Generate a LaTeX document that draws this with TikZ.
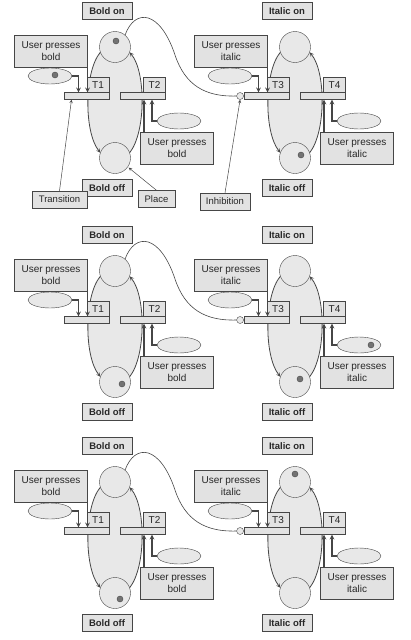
\documentclass[tikz,border=0pt]{standalone}
\usepackage{fontspec}
\setmainfont{Liberation Sans}
\usepackage{tikz}
\usetikzlibrary{shapes.geometric, arrows}
\tikzstyle{statelabel} = [rectangle, draw=edgegray, fill=boxgray, text=inkgray, font=\bfseries\fontsize{9.5}{11}\selectfont, minimum width=50pt, minimum height=17pt, inner sep=1pt]
\tikzstyle{notebox} = [rectangle, draw=edgegray, fill=boxgray, text=inkgray, font=\fontsize{9.5}{11}\selectfont, minimum height=17pt, inner sep=2pt]
\tikzstyle{eventbox} = [rectangle, draw=edgegray, fill=boxgray, text=inkgray, font=\fontsize{10}{12.5}\selectfont, align=center, minimum width=73pt, minimum height=32pt, inner sep=1pt]
\tikzstyle{stateplace} = [circle, draw=edgegray, fill=placegray, minimum size=31pt, inner sep=0pt]
\tikzstyle{trans} = [rectangle, draw=edgegray, fill=boxgray, minimum width=45pt, minimum height=7pt, inner sep=0pt]
\tikzstyle{transname} = [rectangle, draw=edgegray, fill=boxgray, text=inkgray, font=\fontsize{10}{12}\selectfont, minimum width=22pt, minimum height=15pt, inner sep=0pt]
\tikzstyle{event} = [ellipse, draw=edgegray, fill=placegray, minimum width=44pt, minimum height=16pt, inner sep=0pt]
\tikzstyle{tokendot} = [circle, draw=edgegray, fill=tokengray, minimum size=6pt, inner sep=0pt]
\tikzstyle{inhib} = [circle, draw=edgegray, fill=placegray, minimum size=7pt, inner sep=0pt]
\tikzstyle{flowarc} = [draw=edgegray, line width=0.8pt, ->, >=stealth]
\tikzstyle{arrow} = [draw=edgegray, line width=1.1pt, ->, >=stealth]
\tikzstyle{pointer} = [draw=edgegray, line width=0.5pt, ->, >=stealth]
\definecolor{boxgray}{RGB}{226,226,226}
\definecolor{placegray}{RGB}{232,232,232}
\definecolor{edgegray}{RGB}{70,70,70}
\definecolor{inkgray}{RGB}{40,40,40}
\definecolor{tokengray}{RGB}{115,115,115}
\newcommand{\netpart}[7]{%
\begin{scope}[shift={(#2,#3)}]
\fill[placegray] (-14.5,52) .. controls (-31,72) and (-31,132) .. (-15,153) -- (15,153) .. controls (31,132) and (31,72) .. (14.5,52) -- cycle;
\node (#1on) [stateplace] at (0,47) {};
\node (#1off) [stateplace] at (0,158) {};
\draw[flowarc] (#1on.200) .. controls (-31,72) and (-31,132) .. (#1off.160);
\draw[flowarc] (#1off.20) .. controls (31,132) and (31,72) .. (#1on.340);
\node (#1onlbl) [statelabel] at (-8,11) {#4 on};
\node (#1offlbl) [statelabel] at (-8,188) {#4 off};
\node (#1ta) [trans] at (-28.5,96) {};
\node (#1tb) [trans] at (28,96) {};
\node (#1tan) [transname, anchor=south east] at (#1ta.north east) {#6};
\node (#1tbn) [transname, anchor=south east] at (#1tb.north east) {#7};
\node (#1boxa) [eventbox] at (-64,51) {User presses\\#5};
\node (#1boxb) [eventbox] at (62,148) {User presses\\#5};
\node (#1eva) [event] at (-65,76) {};
\node (#1evb) [event] at (64,121) {};
\coordinate (#1ina) at (-27.5,68);
\coordinate (#1inb) at (29,132);
\draw[arrow] (#1eva.east) -| ([xshift=-8pt]#1ta.north);
\draw[arrow] (#1ina) -- (#1ina |- #1ta.north);
\draw[arrow] (#1evb.west) -| ([xshift=9pt]#1tb.south);
\draw[arrow] (#1inb) -- (#1inb |- #1tb.south);
\end{scope}}
\newcommand{\panel}[2]{%
\netpart{b#1}{115}{#2}{Bold}{bold}{T1}{T2}
\netpart{i#1}{295}{#2}{Italic}{italic}{T3}{T4}
\node (inh#1) [inhib, anchor=east] at (i#1ta.west) {};
\begin{scope}[shift={(0,#2)}]
\draw[edgegray, line width=0.6pt] (b#1on.50) .. controls (135,8) and (160,10) .. (175,55) .. controls (185,85) and (205,97) .. (inh#1.west);
\end{scope}}

\begin{document}
\begin{tikzpicture}[x=1pt, y=-1pt]
\useasboundingbox (0,0) rectangle (410,640);
\panel{1}{0}
\panel{2}{224}
\panel{3}{435}
\node (trn) [notebox, minimum width=55pt] at (59.5,199.5) {Transition};
\node (plc) [notebox, minimum width=37pt] at (156.5,199) {Place};
\node (inhn) [notebox, minimum width=50pt] at (225,201.5) {Inhibition};
\draw[pointer] (trn.north) -- ([xshift=-15pt]b1ta.south);
\draw[pointer, shorten >=1pt] (plc.north) -- (b1off.-35);
\draw[pointer] (inhn.north) -- (inh1.south);
\node [tokendot] at ([shift={(1,-6)}]b1on.center) {};
\node [tokendot] at ([shift={(5,-1)}]b1eva.center) {};
\node [tokendot] at ([shift={(6,-3)}]i1off.center) {};
\node [tokendot] at ([shift={(7,2)}]b2off.center) {};
\node [tokendot] at ([shift={(5,-3)}]i2off.center) {};
\node [tokendot] at ([shift={(12,0)}]i2evb.center) {};
\node [tokendot] at ([shift={(5,6)}]b3off.center) {};
\node [tokendot] at ([shift={(0,-8)}]i3on.center) {};
\end{tikzpicture}
\end{document}
